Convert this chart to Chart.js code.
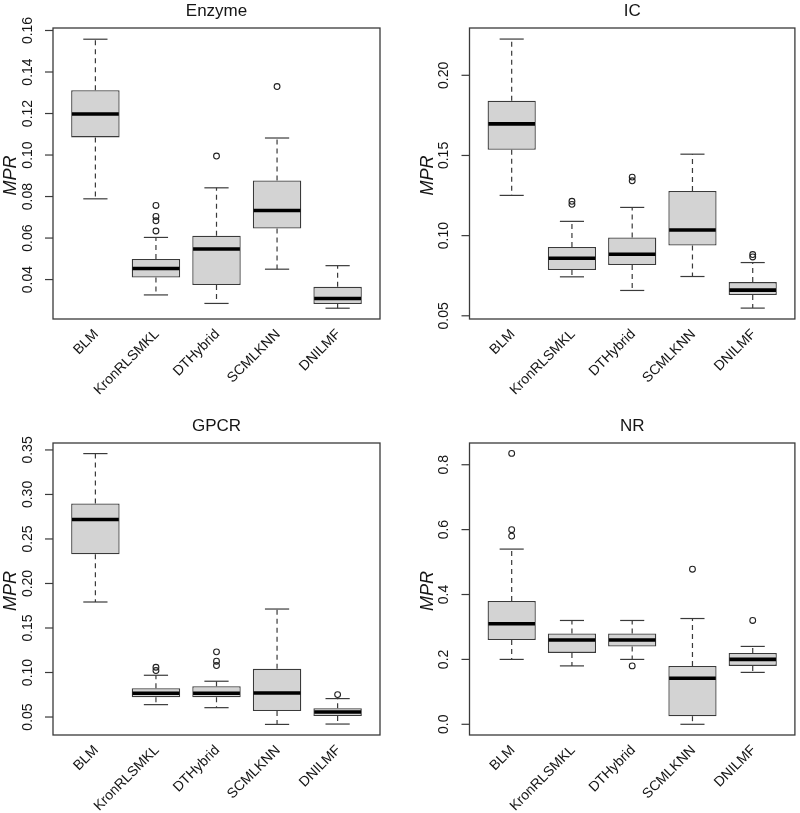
<!DOCTYPE html>
<html><head><meta charset="utf-8">
<script src="https://cdn.jsdelivr.net/npm/chart.js@4.4.1/dist/chart.umd.min.js"></script>
<style>
html,body{margin:0;padding:0;background:#fff;}
#wrap{position:relative;width:800px;height:813px;overflow:hidden;background:#fff;}
canvas{position:absolute;}
</style></head><body><div id="wrap">
<canvas id="c0" width="400" height="407" style="left:0;top:0"></canvas>
<canvas id="c1" width="400" height="407" style="left:400px;top:0"></canvas>
<canvas id="c2" width="400" height="407" style="left:0;top:406px"></canvas>
<canvas id="c3" width="400" height="407" style="left:400px;top:406px"></canvas>
</div>
<script>
// ---------- data ----------
const categories = ['BLM', 'KronRLSMKL', 'DTHybrid', 'SCMLKNN', 'DNILMF'];

const enzymeLow  = [0.0789, 0.0326, 0.0285, 0.0450, 0.0262];
const enzymeQ1   = [0.1085, 0.0410, 0.0374, 0.0646, 0.0282];
const enzymeMed  = [0.1198, 0.0453, 0.0547, 0.0733, 0.0309];
const enzymeQ3   = [0.1312, 0.0499, 0.0611, 0.0877, 0.0365];
const enzymeHigh = [0.1558, 0.0603, 0.0842, 0.1082, 0.0467];
const enzymeOut  = [[], [0.0757, 0.0704, 0.0683, 0.0634], [0.0995], [0.1330], []];
const enzymeTicks = [0.04, 0.06, 0.08, 0.10, 0.12, 0.14, 0.16];
const enzymeTickLabels = ['0.04', '0.06', '0.08', '0.10', '0.12', '0.14', '0.16'];

const icLow  = [0.1251, 0.0743, 0.0658, 0.0745, 0.0548];
const icQ1   = [0.1535, 0.0786, 0.0817, 0.0938, 0.0629];
const icMed  = [0.1697, 0.0859, 0.0884, 0.1035, 0.0660];
const icQ3   = [0.1842, 0.0929, 0.0988, 0.1278, 0.0710];
const icHigh = [0.2226, 0.1089, 0.1176, 0.1508, 0.0832];
const icOut  = [[], [0.1214, 0.1195], [0.1365, 0.1342], [], [0.0882, 0.0867]];
const icTicks = [0.05, 0.10, 0.15, 0.20];
const icTickLabels = ['0.05', '0.10', '0.15', '0.20'];

const gpcrLow  = [0.1792, 0.0639, 0.0605, 0.0417, 0.0421];
const gpcrQ1   = [0.2328, 0.0722, 0.0722, 0.0568, 0.0511];
const gpcrMed  = [0.2719, 0.0767, 0.0767, 0.0770, 0.0556];
const gpcrQ3   = [0.2899, 0.0823, 0.0845, 0.1041, 0.0598];
const gpcrHigh = [0.3459, 0.0969, 0.0902, 0.1713, 0.0707];
const gpcrOut  = [[], [0.1059, 0.1022], [0.1232, 0.1127, 0.1078], [], [0.0752]];
const gpcrTicks = [0.05, 0.10, 0.15, 0.20, 0.25, 0.30, 0.35];
const gpcrTickLabels = ['0.05', '0.10', '0.15', '0.20', '0.25', '0.30', '0.35'];

const nrLow  = [0.20, 0.18, 0.20, 0.000, 0.16];
const nrQ1   = [0.26, 0.22, 0.24, 0.025, 0.18];
const nrMed  = [0.31, 0.26, 0.26, 0.142, 0.20];
const nrQ3   = [0.38, 0.28, 0.28, 0.180, 0.22];
const nrHigh = [0.54, 0.32, 0.32, 0.326, 0.24];
const nrOut  = [[0.835, 0.60, 0.58], [], [0.18], [0.478], [0.32]];
const nrTicks = [0.0, 0.2, 0.4, 0.6, 0.8];
const nrTickLabels = ['0.0', '0.2', '0.4', '0.6', '0.8'];

// ---------- rendering ----------
const FONT = '"Liberation Sans", Arial, Helvetica, sans-serif';
const TXT = '#151515';
const LINE = '#3a3a3a';

function txt(ctx, s, x, y, rot, font, align, base) {
  ctx.save();
  ctx.translate(x, y);
  ctx.rotate(rot);
  ctx.font = font;
  ctx.textAlign = align;
  ctx.textBaseline = base;
  ctx.fillStyle = TXT;
  ctx.fillText(s, 0, 0);
  ctx.restore();
}
function seg(ctx, x1, y1, x2, y2) {
  ctx.beginPath(); ctx.moveTo(x1, y1); ctx.lineTo(x2, y2); ctx.stroke();
}

function makePlugin(p) {
  return {
    id: 'rbox',
    afterDatasetsDraw(chart) {
      const ctx = chart.ctx, xs = chart.scales.x, ys = chart.scales.y;
      const unit = xs.getPixelForValue(2) - xs.getPixelForValue(1);
      const halfBox = unit * 0.4, halfCap = unit * 0.2;
      ctx.save();
      ctx.lineCap = 'butt';
      for (let i = 0; i < p.med.length; i++) {
        const cx = xs.getPixelForValue(i + 1);
        const yLo = ys.getPixelForValue(p.low[i]);
        const yQ1 = ys.getPixelForValue(p.q1[i]);
        const yQ3 = ys.getPixelForValue(p.q3[i]);
        const yHi = ys.getPixelForValue(p.high[i]);
        const yMd = ys.getPixelForValue(p.med[i]);
        ctx.strokeStyle = LINE;
        ctx.lineWidth = 1.2;
        ctx.setLineDash([5, 4]);
        if (Math.abs(yHi - yQ3) > 0.5) seg(ctx, cx, yQ3, cx, yHi);
        if (Math.abs(yLo - yQ1) > 0.5) seg(ctx, cx, yQ1, cx, yLo);
        ctx.setLineDash([]);
        seg(ctx, cx - halfCap, yHi, cx + halfCap, yHi);
        seg(ctx, cx - halfCap, yLo, cx + halfCap, yLo);
        ctx.strokeStyle = '#000';
        ctx.lineWidth = 3.6;
        seg(ctx, cx - halfBox + 0.8, yMd, cx + halfBox - 0.8, yMd);
      }
      ctx.restore();
    },
    afterDraw(chart) {
      const ctx = chart.ctx, xs = chart.scales.x, ys = chart.scales.y;
      const a = chart.chartArea;
      ctx.save();
      ctx.strokeStyle = LINE;
      ctx.lineWidth = 1.3;
      ctx.strokeRect(a.left, a.top, a.right - a.left, a.bottom - a.top);
      // y ticks
      ctx.lineWidth = 1.2;
      p.ticks.forEach((v, k) => {
        const y = ys.getPixelForValue(v);
        seg(ctx, a.left - 8, y, a.left, y);
        txt(ctx, p.tickLabels[k], a.left - 25, y, -Math.PI / 2, '14px ' + FONT, 'center', 'middle');
      });
      // x category labels
      categories.forEach((c, i) => {
        const x = xs.getPixelForValue(i + 1);
        txt(ctx, c, x + 1, a.bottom + 13, -Math.PI / 4, '14px ' + FONT, 'right', 'middle');
      });
      // title
      txt(ctx, p.title, (a.left + a.right) / 2, a.top - 17, 0, '17px ' + FONT, 'center', 'middle');
      // y label
      txt(ctx, 'MPR', a.left - 42, (a.top + a.bottom) / 2 + 2, -Math.PI / 2, 'italic 18px ' + FONT, 'center', 'middle');
      ctx.restore();
    }
  };
}

const panels = [
  { id: 'c0', title: 'Enzyme', low: enzymeLow, q1: enzymeQ1, med: enzymeMed, q3: enzymeQ3, high: enzymeHigh, out: enzymeOut,
    ticks: enzymeTicks, tickLabels: enzymeTickLabels, ymin: 0.0210, ymax: 0.1612, pad: { left: 53, top: 28, right: 20, bottom: 88 } },
  { id: 'c1', title: 'IC', low: icLow, q1: icQ1, med: icMed, q3: icQ3, high: icHigh, out: icOut,
    ticks: icTicks, tickLabels: icTickLabels, ymin: 0.0480, ymax: 0.2295, pad: { left: 69.5, top: 28, right: 4.5, bottom: 88 } },
  { id: 'c2', title: 'GPCR', low: gpcrLow, q1: gpcrQ1, med: gpcrMed, q3: gpcrQ3, high: gpcrHigh, out: gpcrOut,
    ticks: gpcrTicks, tickLabels: gpcrTickLabels, ymin: 0.0298, ymax: 0.3578, pad: { left: 53, top: 37, right: 20, bottom: 78 } },
  { id: 'c3', title: 'NR', low: nrLow, q1: nrQ1, med: nrMed, q3: nrQ3, high: nrHigh, out: nrOut,
    ticks: nrTicks, tickLabels: nrTickLabels, ymin: -0.033, ymax: 0.867, pad: { left: 69.5, top: 37, right: 4.5, bottom: 78 } }
];

panels.forEach(p => {
  const boxes = p.q1.map((v, i) => ({ x: i + 1, y: [v, p.q3[i]] }));
  const outliers = [];
  p.out.forEach((arr, i) => arr.forEach(v => outliers.push({ x: i + 1, y: v })));
  new Chart(document.getElementById(p.id), {
    type: 'bar',
    data: {
      datasets: [
        { type: 'bar', data: boxes, backgroundColor: '#d3d3d3', borderColor: LINE, borderWidth: 1.3,
          borderSkipped: false, barPercentage: 1.0, categoryPercentage: 0.8 },
        { type: 'scatter', data: outliers, pointStyle: 'circle', pointRadius: 2.9, pointBorderWidth: 1.1,
          pointBorderColor: '#222', pointBackgroundColor: 'rgba(0,0,0,0)', showLine: false }
      ]
    },
    options: {
      responsive: false,
      devicePixelRatio: 1,
      animation: false,
      events: [],
      layout: { padding: p.pad },
      plugins: { legend: { display: false }, tooltip: { enabled: false }, title: { display: false } },
      scales: {
        x: { type: 'linear', min: 0.3, max: 5.7, offset: false, display: false, grid: { display: false },
             afterBuildTicks: s => { s.ticks = categories.map((c, i) => ({ value: i + 1 })); } },
        y: { type: 'linear', min: p.ymin, max: p.ymax, display: false, grid: { display: false } }
      }
    },
    plugins: [makePlugin(p)]
  });
});
</script>
</body></html>
